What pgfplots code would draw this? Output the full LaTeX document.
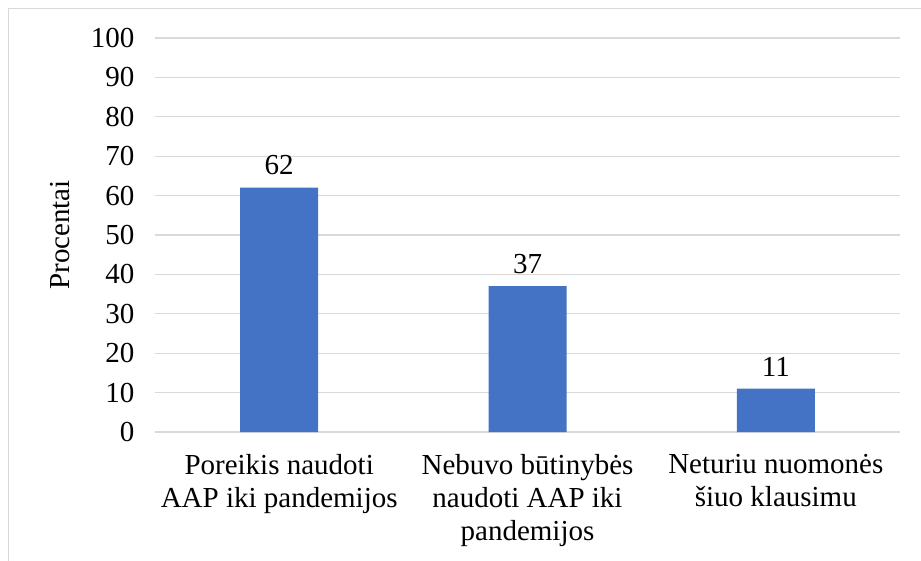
\documentclass[border=0pt]{standalone}
\usepackage{pgfplots}
\pgfplotsset{compat=1.18}
\usepackage{fontspec}
\setmainfont{Liberation Serif}
\definecolor{barblue}{HTML}{4472C4}
\definecolor{gridgray}{HTML}{D9D9D9}
\begin{document}
\begin{tikzpicture}[x=1pt,y=1pt]
\path[use as bounding box] (0,0) rectangle (921,560);
\draw[gridgray, line width=1pt] (8.5,-5) -- (8.5,551.5) -- (930,551.5);
\begin{axis}[
  at={(155pt,128pt)}, anchor=south west,
  scale only axis, width=745pt, height=394pt,
  xmin=-0.5, xmax=2.5, ymin=0, ymax=100,
  ytick={0,10,...,100},
  xtick=data,
  xticklabels={{Poreikis naudoti\\AAP iki pandemijos},{Nebuvo būtinybės\\naudoti AAP iki\\pandemijos},{Neturiu nuomonės\\šiuo klausimu}},
  xticklabel style={align=center, font=\fontsize{29}{33}\selectfont, yshift=-19pt},
  yticklabel style={font=\fontsize{29}{33}\selectfont, xshift=-17pt},
  /pgf/number format/assume math mode=true,
  ylabel={Procentai},
  ylabel style={font=\fontsize{29}{33}\selectfont, at={(axis description cs:-0.1275,0.5)}, anchor=center},
  axis line style={draw=none},
  axis x line*=bottom,
  major tick length=0pt,
  ymajorgrids, grid style={gridgray, line width=1.2pt},
  ybar, bar width=78pt,
  nodes near coords,
  every node near coord/.append style={font=\fontsize{29}{33}\selectfont, yshift=9pt, black},
  clip=false,
]
\addplot[fill=barblue, draw=none] coordinates {(0,62) (1,37) (2,11)};
\end{axis}
\end{tikzpicture}
\end{document}
